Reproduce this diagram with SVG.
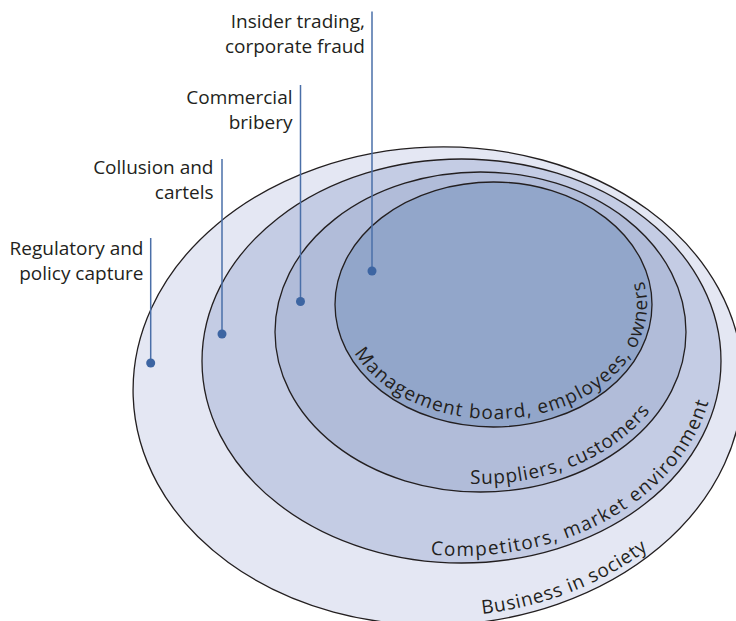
<svg xmlns="http://www.w3.org/2000/svg" width="736" height="621" viewBox="0 0 736 621">
<style>
.ring{stroke:#231f20;stroke-width:1.3}
.lbl{font-family:"Open Sans","Noto Sans",sans-serif;font-size:19px;fill:#231f20;text-anchor:end}
.arc{font-family:"Open Sans","Noto Sans",sans-serif;font-size:19px;fill:#231f20}
.lead{stroke:#4a6fa8;stroke-width:1.5;fill:none}
.dot{fill:#3d65a2}
</style>
<defs>
<path id="pOuter" d="M482.2,613.9 A297,231 0 0 0 707.2,483.6"/>
<path id="pComp" d="M430.7,554.5 A252.5,195 0 0 0 705.4,310.5"/>
<path id="pSupp" d="M470.1,483.8 A198.5,152 0 0 0 676,358.4"/>
<path id="pInner" d="M354.4,352.9 A153.5,114.5 0 1 0 619.2,238.8"/>
</defs>
<rect width="736" height="621" fill="#ffffff"/>
<g id="business-in-society">
<ellipse class="ring" cx="438" cy="386" rx="305" ry="239" transform="rotate(-2 438 386)" fill="#e4e7f3"/>
<text class="arc"><textPath href="#pOuter" textLength="180" lengthAdjust="spacing">Business in society</textPath></text>
</g>
<g id="competitors">
<ellipse class="ring" cx="461.5" cy="361" rx="259.5" ry="202" fill="#c4cce4"/>
<text class="arc"><textPath href="#pComp" textLength="342" lengthAdjust="spacing">Competitors, market environment</textPath></text>
</g>
<g id="suppliers">
<ellipse class="ring" cx="480.5" cy="332" rx="205.5" ry="160" fill="#b1bcd9"/>
<text class="arc"><textPath href="#pSupp" textLength="201" lengthAdjust="spacing">Suppliers, customers</textPath></text>
</g>
<g id="management">
<ellipse class="ring" cx="493.5" cy="304.5" rx="158.5" ry="122.5" fill="#92a6ca"/>
<text class="arc"><textPath href="#pInner" textLength="396" lengthAdjust="spacing">Management board, employees, owners</textPath></text>
</g>
<g id="label-insider">
<text class="lbl" x="365" y="27.5">Insider trading,</text>
<text class="lbl" x="365" y="52.5">corporate fraud</text>
</g>
<g id="label-bribery">
<text class="lbl" x="292.5" y="103.5">Commercial</text>
<text class="lbl" x="292.5" y="128.5">bribery</text>
</g>
<g id="label-collusion">
<text class="lbl" x="213.5" y="174">Collusion and</text>
<text class="lbl" x="213.5" y="199">cartels</text>
</g>
<g id="label-regulatory">
<text class="lbl" x="143.5" y="255">Regulatory and</text>
<text class="lbl" x="143.5" y="279.5">policy capture</text>
</g>
<g id="connectors">
<line class="lead" x1="372" y1="11.5" x2="372" y2="271"/>
<circle class="dot" cx="372" cy="271" r="4.5"/>
<line class="lead" x1="300.5" y1="85" x2="300.5" y2="301.5"/>
<circle class="dot" cx="300.5" cy="301.5" r="4.5"/>
<line class="lead" x1="222" y1="159" x2="222" y2="334"/>
<circle class="dot" cx="222" cy="334" r="4.5"/>
<line class="lead" x1="150.7" y1="238" x2="150.7" y2="363"/>
<circle class="dot" cx="150.7" cy="363" r="4.5"/>
</g>
</svg>
